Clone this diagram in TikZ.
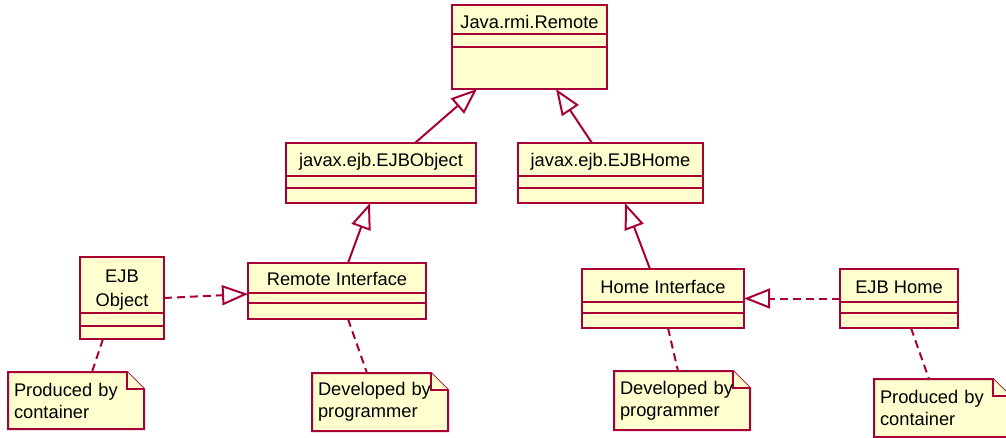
\documentclass[tikz,border=0pt]{standalone}
\usepackage{fontspec}
\setmainfont{Liberation Sans}
\usetikzlibrary{arrows.meta,calc,backgrounds}

\begin{document}
\begin{tikzpicture}[x=1pt, y=1pt,
  classbox/.style={draw=umlred, fill=umlfill, line width=2pt, anchor=north west, inner sep=0pt, outer sep=0pt},
  classname/.style={anchor=base, inner sep=0pt, align=center, font=\fontsize{18.3}{24}\selectfont},
  compartment/.style={draw=umlred, line width=1.6pt},
  notebox/.style={anchor=north west, inner xsep=6pt, inner ysep=0pt, outer sep=0pt, text width=124pt, align=left, font=\fontsize{18.3}{22}\selectfont},
  notefold/.style={draw=umlred, fill=umlfill, line width=2pt},
  extends/.style={draw=umlred, line width=2pt, -{Triangle[open, length=26pt, width=20pt]}},
  realizes/.style={extends, dash pattern=on 8pt off 5pt},
  attached/.style={draw=umlred, line width=2pt, dash pattern=on 8pt off 5pt}]
\definecolor{umlred}{HTML}{A80036}
\definecolor{umlfill}{HTML}{FEFECE}
\useasboundingbox (0,0) rectangle (1006,-438);

\node[classbox, minimum width=155pt, minimum height=84pt] (remote) at (452,-5) {};
\node[classname] (remote-name) at ($(remote.north)+(0,-24)$) {Java.rmi.Remote};
\draw[compartment] ($(remote.north west)+(0,-29)$) -- ($(remote.north east)+(0,-29)$);
\draw[compartment] ($(remote.north west)+(0,-42)$) -- ($(remote.north east)+(0,-42)$);

\node[classbox, minimum width=190pt, minimum height=60pt] (ejbobject) at (286,-143) {};
\node[classname] (ejbobject-name) at ($(ejbobject.north)+(0,-24)$) {javax.ejb.EJBObject};
\draw[compartment] ($(ejbobject.north west)+(0,-33)$) -- ($(ejbobject.north east)+(0,-33)$);
\draw[compartment] ($(ejbobject.north west)+(0,-45)$) -- ($(ejbobject.north east)+(0,-45)$);

\node[classbox, minimum width=185pt, minimum height=60pt] (ejbhome) at (518,-143) {};
\node[classname] (ejbhome-name) at ($(ejbhome.north)+(0,-24)$) {javax.ejb.EJBHome};
\draw[compartment] ($(ejbhome.north west)+(0,-33)$) -- ($(ejbhome.north east)+(0,-33)$);
\draw[compartment] ($(ejbhome.north west)+(0,-45)$) -- ($(ejbhome.north east)+(0,-45)$);

\node[classbox, minimum width=178pt, minimum height=56pt] (remoteif) at (248,-263) {};
\node[classname] (remoteif-name) at ($(remoteif.north)+(0,-23)$) {Remote Interface};
\draw[compartment] ($(remoteif.north west)+(0,-30)$) -- ($(remoteif.north east)+(0,-30)$);
\draw[compartment] ($(remoteif.north west)+(0,-40)$) -- ($(remoteif.north east)+(0,-40)$);

% two-line name: base sits on the last line
\node[classbox, minimum width=84pt, minimum height=82pt] (ejbobj) at (80,-257) {};
\node[classname] (ejbobj-name) at ($(ejbobj.north)+(0,-49)$) {EJB\\Object};
\draw[compartment] ($(ejbobj.north west)+(0,-56)$) -- ($(ejbobj.north east)+(0,-56)$);
\draw[compartment] ($(ejbobj.north west)+(0,-69)$) -- ($(ejbobj.north east)+(0,-69)$);

\node[classbox, minimum width=162pt, minimum height=59pt] (homeif) at (582,-269) {};
\node[classname] (homeif-name) at ($(homeif.north)+(0,-24)$) {Home Interface};
\draw[compartment] ($(homeif.north west)+(0,-33)$) -- ($(homeif.north east)+(0,-33)$);
\draw[compartment] ($(homeif.north west)+(0,-44)$) -- ($(homeif.north east)+(0,-44)$);

\node[classbox, minimum width=118pt, minimum height=59pt] (ejbhomeimpl) at (840,-269) {};
\node[classname] (ejbhomeimpl-name) at ($(ejbhomeimpl.north)+(0,-24)$) {EJB Home};
\draw[compartment] ($(ejbhomeimpl.north west)+(0,-33)$) -- ($(ejbhomeimpl.north east)+(0,-33)$);
\draw[compartment] ($(ejbhomeimpl.north west)+(0,-44)$) -- ($(ejbhomeimpl.north east)+(0,-44)$);

\node[notebox, minimum height=57pt] (objnote) at (8,-372) {Produced by\\container};
\node[notebox, minimum height=58pt] (remotenote) at (312,-373) {Developed by\\programmer};
\node[notebox, minimum height=59pt] (homenote) at (614,-371) {Developed by\\programmer};
\node[notebox, minimum height=58pt] (homeimplnote) at (874,-379) {Produced by\\container};

\begin{scope}[on background layer]
\path[notefold] (objnote.north west) -- ([xshift=-17pt]objnote.north east) -- ([yshift=-17pt]objnote.north east) -- (objnote.south east) -- (objnote.south west) -- cycle;
\draw[notefold] ([xshift=-17pt]objnote.north east) |- ([yshift=-17pt]objnote.north east);
\path[notefold] (remotenote.north west) -- ([xshift=-17pt]remotenote.north east) -- ([yshift=-17pt]remotenote.north east) -- (remotenote.south east) -- (remotenote.south west) -- cycle;
\draw[notefold] ([xshift=-17pt]remotenote.north east) |- ([yshift=-17pt]remotenote.north east);
\path[notefold] (homenote.north west) -- ([xshift=-17pt]homenote.north east) -- ([yshift=-17pt]homenote.north east) -- (homenote.south east) -- (homenote.south west) -- cycle;
\draw[notefold] ([xshift=-17pt]homenote.north east) |- ([yshift=-17pt]homenote.north east);
\path[notefold] (homeimplnote.north west) -- ([xshift=-17pt]homeimplnote.north east) -- ([yshift=-17pt]homeimplnote.north east) -- (homeimplnote.south east) -- (homeimplnote.south west) -- cycle;
\draw[notefold] ([xshift=-17pt]homeimplnote.north east) |- ([yshift=-17pt]homeimplnote.north east);
\end{scope}

\draw[extends] ([xshift=34pt]ejbobject.north) -- ([xshift=-52.5pt]remote.south);
\draw[extends] ([xshift=-18.5pt]ejbhome.north) -- ([xshift=26.5pt]remote.south);
\draw[extends] ([xshift=11pt]remoteif.north) -- ([xshift=-11pt]ejbobject.south);
\draw[extends] ([xshift=-13pt]homeif.north) -- ([xshift=14.5pt]ejbhome.south);
\draw[realizes] (ejbobj.east) -- ([yshift=-3pt]remoteif.west);
\draw[realizes] (ejbhomeimpl.west) -- (homeif.east);

\draw[attached] ([xshift=-19pt]ejbobj.south) -- ([xshift=16pt]objnote.north);
\draw[attached] ([xshift=11pt]remoteif.south) -- ([xshift=-13pt]remotenote.north);
\draw[attached] ([xshift=5pt]homeif.south) -- ([xshift=-4pt]homenote.north);
\draw[attached] ([xshift=12pt]ejbhomeimpl.south) -- ([xshift=-13pt]homeimplnote.north);
\end{tikzpicture}
\end{document}
